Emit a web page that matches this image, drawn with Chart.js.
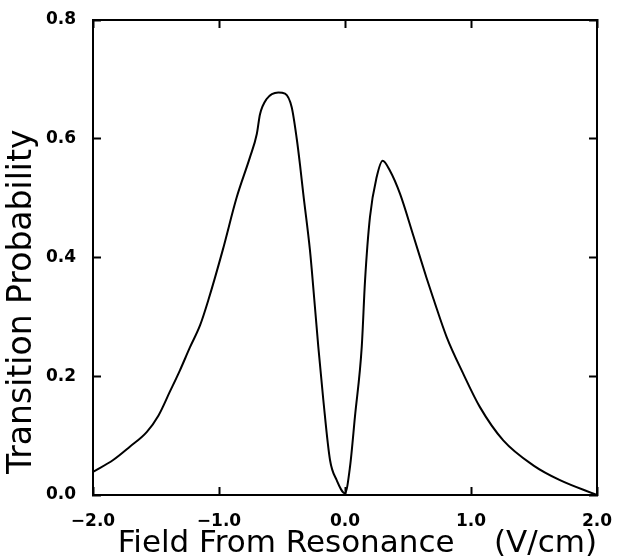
<!DOCTYPE html>
<html>
<head>
<meta charset="utf-8">
<script src="https://cdn.jsdelivr.net/npm/chart.js@4.4.1/dist/chart.umd.min.js"></script>
<style>
  html, body { margin: 0; padding: 0; background: #fff; }
  canvas { display: block; }
</style>
</head>
<body>
<canvas id="chart" width="618" height="557"></canvas>
<script>
// field from resonance (V/cm)
const fieldValues = [
  -2.0, -1.84, -1.71, -1.574, -1.48, -1.39, -1.31, -1.23, -1.15, -1.085,
  -0.971, -0.86, -0.754, -0.70, -0.675, -0.622, -0.529, -0.476, -0.423, -0.383,
  -0.357, -0.331, -0.278, -0.264, -0.212, -0.172, -0.119, -0.066, 0.0, 0.04,
  0.079, 0.133, 0.159, 0.198, 0.251, 0.299, 0.357, 0.437, 0.542, 0.648,
  0.701, 0.807, 0.939, 1.071, 1.256, 1.494, 1.706, 2.0
];
// transition probability at each field value
const probability = [
  0.039, 0.059, 0.081, 0.106, 0.134, 0.174, 0.210, 0.249, 0.286, 0.328,
  0.412, 0.501, 0.569, 0.608, 0.641, 0.667, 0.678, 0.676, 0.653, 0.600,
  0.556, 0.507, 0.412, 0.380, 0.250, 0.160, 0.059, 0.025, 0.003, 0.048,
  0.132, 0.250, 0.361, 0.468, 0.535, 0.563, 0.546, 0.507, 0.437, 0.365,
  0.331, 0.266, 0.204, 0.148, 0.092, 0.050, 0.025, 0.0
];
const xTicks = [-2, -1, 0, 1, 2];
const yTicks = [0, 0.2, 0.4, 0.6, 0.8];

const fmt = (v) => (v < 0 ? '\u2212' : '') + Math.abs(v).toFixed(1);

const tickFont = { family: 'DejaVu Sans', size: 17, weight: 'bold' };
const titleFont = { family: 'DejaVu Sans', size: 31, weight: 'normal', lineHeight: 1 };
const yTitleFont = { family: 'DejaVu Sans', size: 33, weight: 'normal', lineHeight: 1 };

// inward tick marks: negative tick length
const frameGrid = {
  display: true,
  drawOnChartArea: false,
  drawTicks: true,
  tickLength: -8,
  tickWidth: 2,
  color: '#000'
};
const frameBorder = { display: true, color: '#000', width: 2 };

// fix the box size and drop the label overhang padding
const fixSize = (w, h) => (s) => {
  if (w !== null) s.width = w;
  if (h !== null) s.height = h;
  s.paddingTop = 0;
  s.paddingBottom = 0;
  s.paddingLeft = 0;
  s.paddingRight = 0;
};

const points = fieldValues.map((x, i) => ({ x, y: probability[i] }));

new Chart(document.getElementById('chart').getContext('2d'), {
  type: 'line',
  data: {
    datasets: [{
      data: points,
      borderColor: '#000',
      borderWidth: 2,
      pointRadius: 0,
      fill: false,
      cubicInterpolationMode: 'monotone'
    }]
  },
  options: {
    responsive: false,
    animation: false,
    layout: { padding: 0 },
    plugins: {
      legend: { display: false },
      tooltip: { enabled: false }
    },
    scales: {
      x: {
        type: 'linear',
        position: 'bottom',
        min: -2,
        max: 2,
        afterBuildTicks: (s) => { s.ticks = xTicks.map(v => ({ value: v })); },
        afterFit: fixSize(null, 62),
        ticks: {
          color: '#000',
          font: tickFont,
          padding: 24,
          maxRotation: 0,
          callback: (v) => fmt(v)
        },
        grid: frameGrid,
        border: frameBorder,
        title: {
          display: true,
          align: 'end',
          text: 'Field From Resonance    (V/cm)',
          color: '#000',
          font: titleFont,
          padding: { top: 0, bottom: -2 }
        }
      },
      x2: {
        type: 'linear',
        position: 'top',
        min: -2,
        max: 2,
        afterBuildTicks: (s) => { s.ticks = xTicks.map(v => ({ value: v })); },
        afterFit: fixSize(null, 20),
        ticks: { display: false },
        grid: frameGrid,
        border: frameBorder
      },
      y: {
        type: 'linear',
        position: 'left',
        min: 0,
        max: 0.8,
        afterBuildTicks: (s) => { s.ticks = yTicks.map(v => ({ value: v })); },
        afterFit: fixSize(93, null),
        ticks: {
          color: '#000',
          font: tickFont,
          padding: 25,
          callback: (v) => fmt(v)
        },
        grid: frameGrid,
        border: frameBorder,
        title: {
          display: true,
          align: 'start',
          text: '  Transition Probability',
          color: '#000',
          font: yTitleFont,
          padding: { top: 6, bottom: 0 }
        }
      },
      y2: {
        type: 'linear',
        position: 'right',
        min: 0,
        max: 0.8,
        afterBuildTicks: (s) => { s.ticks = yTicks.map(v => ({ value: v })); },
        afterFit: fixSize(21, null),
        ticks: { display: false },
        grid: frameGrid,
        border: frameBorder
      }
    }
  }
});
</script>
</body>
</html>
